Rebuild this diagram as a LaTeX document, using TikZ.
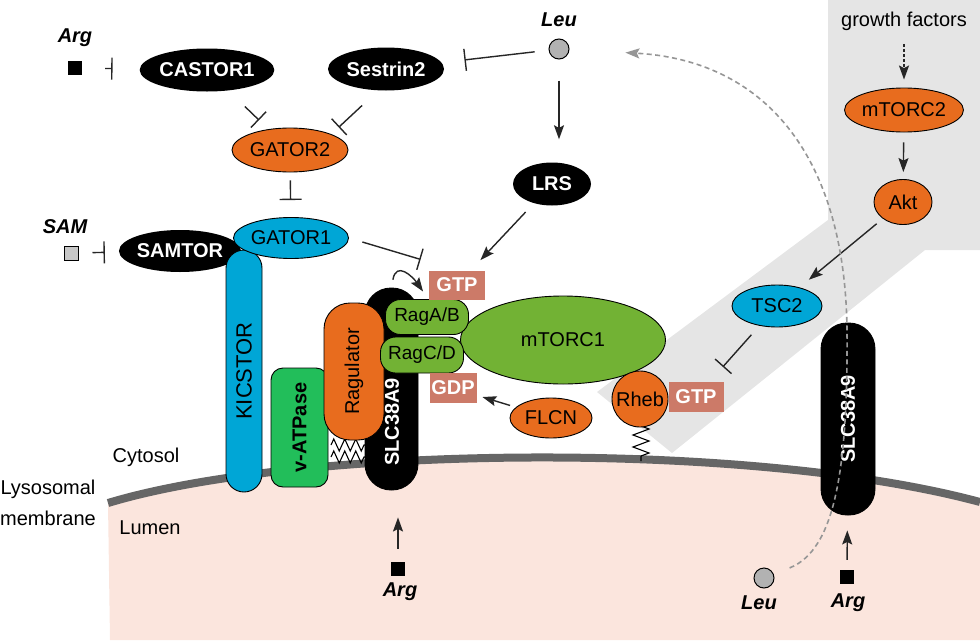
\documentclass[tikz,border=0pt]{standalone}
\usepackage{fontspec}
\setmainfont{Liberation Sans}
\usetikzlibrary{arrows.meta,decorations.pathmorphing,shapes.geometric}

\definecolor{arancio}{RGB}{232,108,30}
\definecolor{azzurro}{RGB}{0,166,214}
\definecolor{verdeRag}{RGB}{114,178,52}
\definecolor{verdeAtp}{RGB}{34,190,90}
\definecolor{salmone}{RGB}{204,122,104}
\definecolor{grigioOmbra}{RGB}{229,229,229}
\definecolor{rosaLumen}{RGB}{251,229,221}
\definecolor{grigioMembrana}{RGB}{102,102,102}
\definecolor{grigioLeu}{RGB}{150,150,150}

\begin{document}
\begin{tikzpicture}[x=1pt, y=1pt,
    font=\fontsize{20}{24}\selectfont,
    ovnero/.style={ellipse, fill=black, text=white, inner sep=0pt,
        font=\fontsize{20}{24}\selectfont\bfseries},
    ovcol/.style={ellipse, draw=black, line width=0.9pt, inner sep=0pt},
    capsula/.style={rectangle, draw=black, line width=0.9pt, inner sep=0pt},
    nucl/.style={rectangle, fill=salmone, text=white, inner sep=0pt,
        font=\fontsize{20}{24}\selectfont\bfseries},
    amino/.style={font=\fontsize{20}{24}\selectfont\bfseries\itshape},
    quadro/.style={rectangle, fill=black, minimum size=14pt, inner sep=0pt},
    pallino/.style={circle, draw=black, line width=1pt, fill=black!30, minimum size=20pt, inner sep=0pt},
    act/.style={-{Stealth[length=14pt, width=10pt, inset=2.5pt]}, line width=1.4pt, draw=black!85},
    inh/.style={-{Bar[width=22pt]}, line width=1.4pt, draw=black!85},
    molla/.style={decorate, decoration={zigzag, segment length=11pt, amplitude=6pt}, line width=1.1pt},
    leutratt/.style={-{Stealth[length=14pt, width=10pt, inset=2.5pt]}, draw=grigioLeu, line width=1.6pt,
        dash pattern=on 5pt off 3.5pt},
]
    \useasboundingbox (0,0) rectangle (980,-640);

    % Sfondo: ombra grigia, lume, membrana
    \fill[grigioOmbra] (828,0) -- (980,0) -- (980,-250) -- (925,-250) -- (672,-453)
        -- (597,-392) -- (828,-220) -- cycle;
    \fill[rosaLumen] (108,-503) .. controls (300,-445) and (750,-440) .. (980,-502)
        -- (980,-640) -- (110,-640) -- cycle;
    \draw[grigioMembrana, line width=8pt] (108,-503) .. controls (300,-445) and (750,-440) .. (980,-502);

    \node at (146,-457) {Cytosol};
    \node at (48,-489) {Lysosomal};
    \node at (48,-518) {membrane};
    \node at (150,-528) {Lumen};

    % Aminoacidi in alto
    \node[amino] (argtoplab) at (75,-38) {Arg};
    \node[quadro] (argtop) at (75,-68) {};
    \node[amino] (samlab) at (65,-227) {SAM};
    \node[quadro, fill=black!22, draw=black, line width=1pt] (samsq) at (71,-253) {};
    \node[amino] (leutoplab) at (559,-20) {Leu};
    \node[pallino] (leutop) at (559,-49) {};

    % Sensori
    \node[ovnero, minimum width=117pt, minimum height=43pt] (castor) at (207,-70) {CASTOR1};
    \node[ovnero, minimum width=116pt, minimum height=43pt] (sestrin) at (386,-69) {Sestrin2};
    \node[ovnero, minimum width=78pt, minimum height=43pt] (lrs) at (552,-184) {LRS};
    \node[ovcol, fill=arancio, minimum width=116pt, minimum height=44pt] (gator2) at (290,-150) {GATOR2};
    \node[ovnero, minimum width=115pt, minimum height=42pt] (samtor) at (180,-251) {SAMTOR};
    \node[capsula, fill=azzurro, minimum width=242pt, minimum height=36pt, rounded corners=18pt,
        rotate=90, font=\fontsize{22}{26}\selectfont] (kicstor) at (244,-371) {KICSTOR};
    \node[ovcol, fill=azzurro, minimum width=115pt, minimum height=41pt] (gator1) at (291,-238) {GATOR1};

    % Ancore lipidiche
    \draw[molla] (331,-445) -- (366,-445);
    \draw[molla] (331,-457) -- (366,-457);
    \coordinate (ancRheb) at (641,-461);

    % Complesso sul lisosoma
    \node[capsula, fill=black, minimum width=53pt, minimum height=202pt, rounded corners=26pt] (slc1) at (391.5,-389) {};
    \node[rotate=90, text=white, font=\fontsize{20}{24}\selectfont\bfseries] (slc1txt) at (392,-422) {SLC38A9};
    \node[capsula, fill=verdeAtp, minimum width=119pt, minimum height=57pt, rounded corners=12pt,
        rotate=90, font=\fontsize{20}{24}\selectfont\bfseries] (vatp) at (299.5,-427.5) {v-ATPase};
    \node[capsula, fill=arancio, minimum width=137pt, minimum height=60pt, rounded corners=26pt,
        rotate=90] (ragulator) at (354,-371.5) {Ragulator};
    \node[ovcol, fill=verdeRag, minimum width=205pt, minimum height=88pt] (mtorc1) at (563,-340) {mTORC1};
    \node[capsula, fill=verdeRag, minimum width=83pt, minimum height=35pt, rounded corners=15pt,
        font=\fontsize{19}{23}\selectfont] (raga) at (427,-317) {RagA/B};
    \node[capsula, fill=verdeRag, minimum width=83pt, minimum height=36pt, rounded corners=15pt,
        font=\fontsize{19}{23}\selectfont] (ragc) at (422,-355) {RagC/D};
    \node[nucl, minimum width=56pt, minimum height=29pt] (gtp1) at (457,-285) {GTP};
    \node[nucl, minimum width=47pt, minimum height=30pt] (gdp) at (453,-388) {GDP};
    \node[ovcol, fill=arancio, minimum width=82pt, minimum height=40pt] (flcn) at (551,-418) {FLCN};

    % Rheb e via dei fattori di crescita
    \draw[molla, decoration={amplitude=8pt, segment length=12pt}] (641,-426) -- (ancRheb);
    \node[circle, draw=black, line width=0.9pt, fill=arancio, minimum size=56pt, inner sep=0pt] (rheb) at (640,-399) {Rheb};
    \node[nucl, minimum width=55pt, minimum height=30pt] (gtp2) at (696,-397) {GTP};
    \node[ovcol, fill=azzurro, minimum width=90pt, minimum height=42pt] (tsc2) at (777,-306) {TSC2};
    \node[ovcol, fill=arancio, minimum width=58pt, minimum height=45pt] (akt) at (903,-202) {Akt};
    \node[ovcol, fill=arancio, minimum width=115pt, minimum height=44pt] (mtorc2) at (904,-110) {mTORC2};
    \node (gf) at (904,-21) {growth factors};
    \node[capsula, fill=black, minimum width=192pt, minimum height=54pt, rounded corners=26pt,
        rotate=90, text=white, font=\fontsize{20}{24}\selectfont\bfseries] (slc2) at (848,-419) {SLC38A9};

    % Aminoacidi nel lume
    \node[quadro] (argbot) at (398,-569) {};
    \node[amino] (argbotlab) at (400,-592) {Arg};
    \node[pallino] (leubot) at (764,-578) {};
    \node[amino] (leubotlab) at (759,-603) {Leu};
    \node[quadro] (argbr) at (847,-577) {};
    \node[amino] (argbrlab) at (848,-603) {Arg};

    % Inibizioni
    \draw[inh, shorten <=23pt, shorten >=27pt] (argtop) -- (castor);
    \draw[inh, shorten <=14pt, shorten >=14pt] (samsq) -- (samtor);
    \draw[inh, shorten <=14pt, shorten >=23pt] (leutop) -- (sestrin);
    \draw[inh, shorten <=23pt, shorten >=13pt] (castor) -- (gator2);
    \draw[inh, shorten <=22pt, shorten >=10pt] (sestrin.250) -- (gator2.north east);
    \draw[inh, shorten <=8pt, shorten >=17pt] (gator2) -- (gator1);
    \draw[inh, shorten <=14pt, shorten >=38pt] (gator1.east) -- (gtp1.north);
    \draw[inh, shorten <=12pt, shorten >=20pt] (tsc2) -- (gtp2);

    % Attivazioni
    \draw[act, shorten <=21pt, shorten >=23pt] (leutop) -- (leutop |- lrs.north);
    \draw[act, shorten <=12pt, shorten >=14pt] (lrs) -- (gtp1);
    \draw[act, shorten <=8pt, shorten >=10pt] (slc1.north) to[out=80, in=125, looseness=1.8] (gtp1.south west);
    \draw[act, shorten <=6pt, shorten >=6pt] (flcn) -- (gdp);
    \draw[act, dash pattern=on 3pt off 2pt, shorten <=10pt, shorten >=8pt] (gf) -- (mtorc2);
    \draw[act, shorten <=10pt, shorten >=7pt] (mtorc2) -- (akt);
    \draw[act, shorten <=8pt, shorten >=12pt] (akt) -- (tsc2);
    \draw[act, shorten <=13pt, shorten >=27pt] (argbot) -- (argbot |- slc1.south);
    \draw[act, shorten <=10pt, shorten >=15pt] (argbr) -- (slc2);

    % Leu esce dal lisosoma
    \draw[leutratt, shorten <=17pt, shorten >=56pt] (leubot) .. controls (835,-550) and (848,-470) .. (847,-330)
        .. controls (845,-150) and (760,-60) .. (leutop);
\end{tikzpicture}
\end{document}
